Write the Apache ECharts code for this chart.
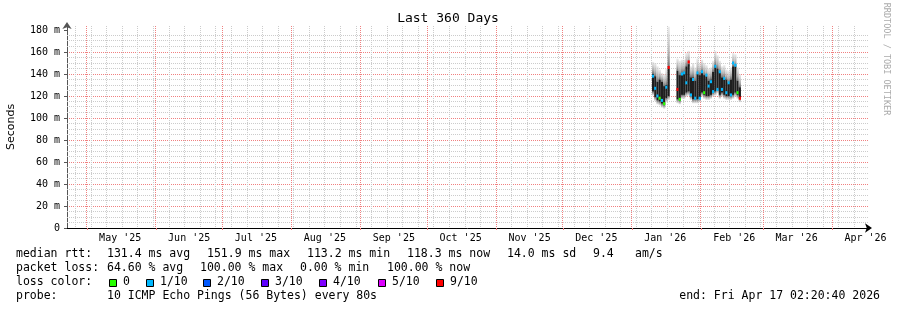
<!DOCTYPE html>
<html><head><meta charset="utf-8">
<script src="https://cdn.jsdelivr.net/npm/echarts@6/dist/echarts.min.js"></script>
<style>html,body{margin:0;padding:0;background:#fff}#c{width:897px;height:310px}</style>
</head><body><div id="c"></div><script>
// ---------- data ----------
const chartTitle = 'Last 360 Days';
const yAxisName = 'Seconds';
const yTicks = [0, 20, 40, 60, 80, 100, 120, 140, 160, 180];
const labelMonths = ['2025-05','2025-06','2025-07','2025-08','2025-09','2025-10','2025-11','2025-12','2026-01','2026-02','2026-03','2026-04'];
const monthLabels = ["May '25","Jun '25","Jul '25","Aug '25","Sep '25","Oct '25","Nov '25","Dec '25","Jan '26","Feb '26","Mar '26","Apr '26"];
const startTime = '2025-04-22T02:20:40Z';
const endTime = '2026-04-17T02:20:40Z';

const days = ['2026-01-10','2026-01-11','2026-01-12','2026-01-13','2026-01-14','2026-01-15','2026-01-16','2026-01-17',
  '2026-01-21','2026-01-22','2026-01-23','2026-01-24','2026-01-25','2026-01-26','2026-01-27','2026-01-28','2026-01-29','2026-01-30','2026-01-31',
  '2026-02-01','2026-02-02','2026-02-03','2026-02-04','2026-02-05','2026-02-06','2026-02-07','2026-02-08','2026-02-09','2026-02-10',
  '2026-02-11','2026-02-12','2026-02-13','2026-02-14','2026-02-15','2026-02-16','2026-02-17','2026-02-18'];
const lowMs    = [124,119,116,115,113,112,118,120, 117,116,121,121,123,124,120,117,117,117,118, 123,121,120,120,121,123,124,126,121,123, 121,120,120,120,121,123,121,118];
const highMs   = [140,138,133,135,133,129,130,145, 143,139,141,142,147,149,137,137,134,140,139, 142,139,138,134,135,142,148,145,142,137, 137,135,132,135,147,147,134,128];
const smokeMs  = [151,150,147,144,141,140,145,183, 154,152,153,153,159,161,147,150,146,154,150, 153,150,148,145,146,152,161,157,152,147, 148,144,143,146,159,158,146,140];
const medianMs = [138,127,120,118,116,113,128,146, 126,117,140,141,132,151,121,135,118,141,118, 142,123,139,129,133,124,147,126,142,126, 136,123,132,121,150,148,123,118];
const lossClass = ['1/10','1/10','1/10','0','1/10','0','1/10','9/10',
  '9/10','0','1/10','1/10','1/10','9/10','1/10','1/10','1/10','1/10','1/10',
  '1/10','0','1/10','1/10','1/10','1/10','1/10','1/10','1/10','1/10',
  '1/10','1/10','1/10','1/10','1/10','1/10','0','9/10'];
const lossNames  = ['0','1/10','2/10','3/10','4/10','5/10','9/10'];
const lossColors = ['#26ff00','#00b8ff','#0059ff','#5e00ff','#7e00ff','#dd00ff','#ff0000'];

const medianStats = ['131.4 ms avg','151.9 ms max','113.2 ms min','118.3 ms now','14.0 ms sd','9.4','am/s'];
const lossStats = ['64.60 % avg','100.00 % max','0.00 % min','100.00 % now'];
const probeText = '10 ICMP Echo Pings (56 Bytes) every 80s';
const endText = 'end: Fri Apr 17 02:20:40 2026';
const watermark = 'RRDTOOL / TOBI OETIKER';

// ---------- build ----------
const DAY = 86400000, HALF = DAY / 2;
const T0 = Date.parse(startTime), T1 = Date.parse(endTime);
const MONO = 'DejaVu Sans Mono';
const labelValues = labelMonths.map(m => Date.parse(m + '-16T00:00:00Z'));
const monthStarts = labelMonths.map(m => Date.parse(m + '-01T00:00:00Z'));
const weekLines = [];
for (let t = Date.parse('2025-04-26T00:00:00Z'); t < T1; t += 7 * DAY) weekLines.push(t);

const RED = '#f08080', GRAY = '#cccccc';
// vertical grid items: [time, major?]; horizontal minor grid items: [ms]
const vGrid = [], hGrid = [];
weekLines.forEach(t => vGrid.push([t, 0]));
monthStarts.forEach(t => vGrid.push([t, 1]));
for (let v = 5; v <= 180; v += 5) if (v % 20 !== 0) hGrid.push([v]);
const gridColors = [GRAY, RED];

function vLine(params, api) {
  const cs = params.coordSys;
  const x = Math.floor(api.coord([api.value(0), 0])[0]) + 0.5;
  return {type: 'line', z2: api.value(1) * 10, shape: {x1: x, y1: cs.y, x2: x, y2: cs.y + cs.height},
    style: {stroke: gridColors[api.value(1)], lineWidth: 1, lineDash: [1, 1]}};
}
function hLine(params, api) {
  const cs = params.coordSys;
  const y = Math.floor(api.coord([T0, api.value(0)])[1]) + 0.5;
  return {type: 'line', shape: {x1: cs.x, y1: y, x2: cs.x + cs.width, y2: y},
    style: {stroke: GRAY, lineWidth: 1, lineDash: [1, 1]}};
}

const smokeData = days.map((d, i) => [Date.parse(d + 'T12:00:00Z'), lowMs[i], highMs[i], smokeMs[i], medianMs[i], lossNames.indexOf(lossClass[i])]);

const smokeGrad = new echarts.graphic.LinearGradient(0, 0, 0, 1, [
  {offset: 0, color: 'rgba(215,215,215,0.5)'}, {offset: 0.7, color: '#a8a8a8'}, {offset: 1, color: '#707070'}]);
const underGrad = new echarts.graphic.LinearGradient(0, 0, 0, 1, [
  {offset: 0, color: '#666'}, {offset: 1, color: 'rgba(210,210,210,0.5)'}]);

function renderItem(params, api) {
  const t = api.value(0);
  const xa = api.coord([t - HALF, 0])[0], xb = api.coord([t + HALF, 0])[0];
  const yLo = api.coord([t, api.value(1)])[1];
  const yHi = api.coord([t, api.value(2)])[1];
  const ySm = api.coord([t, api.value(3)])[1];
  const yMd = api.coord([t, api.value(4)])[1];
  const col = lossColors[api.value(5)];
  const w = xb - xa;
  return {type: 'group', children: [
    {type: 'rect', shape: {x: xa, y: ySm, width: w, height: yHi - ySm}, style: {fill: smokeGrad}},
    {type: 'rect', shape: {x: xa, y: yLo, width: w, height: 4}, style: {fill: underGrad}},
    {type: 'rect', shape: {x: xa, y: yHi, width: w, height: yLo - yHi}, style: {fill: '#1e1e1e'}},
    {type: 'rect', shape: {x: xa, y: yMd - 1.5, width: w, height: 3}, style: {fill: col}}
  ]};
}

const gTop = 26, gH = 202, pxPerMs = 1.1;
const graphics = [];
function txt(x, y, s, opt) {
  graphics.push(Object.assign({type: 'text', x: x, y: y, silent: true,
    style: {text: s, font: '11.5px "' + MONO + '"', fill: '#000', align: 'left', verticalAlign: 'middle'}}, opt || {}));
}
txt(448, 19, chartTitle, {style: {text: chartTitle, font: '13px "' + MONO + '"', fill: '#000', align: 'center', verticalAlign: 'middle'}});
graphics.push({type: 'text', x: 886, y: 59, rotation: -Math.PI / 2, silent: true,
  style: {text: watermark, font: '8.5px "' + MONO + '"', fill: '#aaaaaa', align: 'center', verticalAlign: 'middle'}});
const L1 = 254.5, L2 = 268.5, L3 = 282.5, L4 = 296;
txt(16, L1, 'median rtt:');
[107, 207, 307, 407, 507, 593, 635].forEach((x, i) => txt(x, L1, medianStats[i]));
txt(16, L2, 'packet loss:');
[107, 200, 300, 387].forEach((x, i) => txt(x, L2, lossStats[i]));
txt(16, L3, 'loss color:');
const sqX = [109, 146, 203, 261, 319, 378, 436];
sqX.forEach((x, i) => {
  graphics.push({type: 'rect', silent: true, shape: {x: x + 0.5, y: 279.5, width: 7, height: 7},
    style: {fill: lossColors[i], stroke: '#000', lineWidth: 1}});
  txt(x + 14, L3, lossNames[i]);
});
txt(16, L4, 'probe:');
txt(107, L4, probeText);
graphics.push({type: 'text', x: 880, y: L4, silent: true,
  style: {text: endText, font: '11.5px "' + MONO + '"', fill: '#000', align: 'right', verticalAlign: 'middle'}});

const option = {
  animation: false,
  backgroundColor: '#fff',
  grid: {left: 67, right: 29, top: gTop, height: gH, outerBoundsMode: 'none', containLabel: false},
  xAxis: {
    type: 'value', min: T0, max: T1,
    splitLine: {show: false},
    axisLine: {show: true, lineStyle: {color: '#000', width: 1}, symbol: ['none', 'arrow'], symbolSize: [7, 7], symbolOffset: [0, 4]},
    axisTick: {show: true, customValues: monthStarts, length: 2, lineStyle: {color: RED}},
    axisLabel: {customValues: labelValues, color: '#000', fontFamily: MONO, fontSize: 10, margin: 5,
      formatter: v => { const i = labelValues.indexOf(v); return i >= 0 ? monthLabels[i] : ''; }}
  },
  yAxis: {
    type: 'value', min: 0, max: gH / pxPerMs, interval: 20,
    name: yAxisName, nameLocation: 'middle', nameGap: 50,
    nameTextStyle: {fontFamily: 'DejaVu Sans', fontSize: 11, color: '#000'},
    splitLine: {show: true, showMinLine: false, showMaxLine: false, lineStyle: {color: RED, width: 1, type: [1, 1]}},
    axisLine: {show: true, lineStyle: {color: '#555', width: 1}, symbol: ['none', 'arrow'], symbolSize: [7, 7], symbolOffset: [0, 4]},
    axisTick: {show: true, customValues: yTicks, length: 3, lineStyle: {color: '#555'}},
    axisLabel: {customValues: yTicks, color: '#000', fontFamily: MONO, fontSize: 10, margin: 7,
      formatter: v => v === 0 ? '0' : v + ' m'}
  },
  series: [
    {type: 'custom', renderItem: hLine, data: hGrid, encode: {y: 0}, z: 1, silent: true, clip: false},
    {type: 'custom', renderItem: vLine, data: vGrid, encode: {x: 0}, z: 1, silent: true, clip: false},
    {type: 'custom', renderItem: renderItem, data: smokeData, z: 3, clip: true, silent: true,
      encode: {x: 0, y: [1, 2, 3, 4]}}
  ],
  graphic: graphics
};
const chart = echarts.init(document.getElementById('c'), null, {renderer: 'canvas'});
chart.setOption(option);
</script></body></html>
